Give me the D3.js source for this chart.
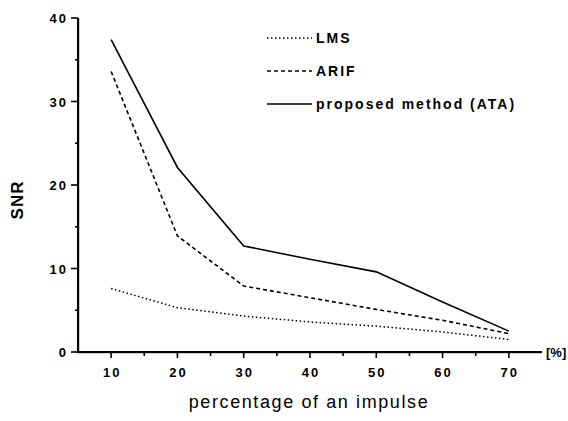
<!DOCTYPE html>
<html>
<head>
<meta charset="utf-8">
<script src="https://cdn.jsdelivr.net/npm/d3@7"></script>
<style>
  body { margin: 0; background: #fff; }
  text { font-family: "Liberation Sans", Arial, sans-serif; fill: #000; }
</style>
</head>
<body>
<div id="chart"></div>
<script>
// data
const impulse = [10, 20, 30, 40, 50, 60, 70];
const lms = [7.6, 5.3, 4.3, 3.6, 3.1, 2.4, 1.5];
const arif = [33.6, 13.9, 7.9, 6.5, 5.1, 3.8, 2.2];
const ata = [37.4, 22.1, 12.7, 11.1, 9.6, 6.0, 2.5];

const seriesNames = ['LMS', 'ARIF', 'proposed method (ATA)'];
const xTicks = [10, 20, 30, 40, 50, 60, 70];
const xMinor = [15, 25, 35, 45, 55, 65];
const yTicks = [0, 10, 20, 30, 40];
const yMinor = [5, 15, 25, 35];

const width = 568, height = 421;
const margin = { top: 18, right: 26, bottom: 69, left: 78 };

const svg = d3.select('#chart').append('svg')
  .attr('width', width)
  .attr('height', height);

const x = d3.scaleLinear().domain([5, 75]).range([margin.left, width - margin.right]);
const y = d3.scaleLinear().domain([0, 40]).range([height - margin.bottom, margin.top]);

const tickFont = sel => sel
  .style('font-size', '13px')
  .style('font-weight', 'bold')
  .style('letter-spacing', '2px');

// axis frame as thin filled rects
const frame = svg.append('g').attr('class', 'frame');
frame.append('rect')
  .attr('x', x(5) - 1).attr('y', y(40))
  .attr('width', 2.2).attr('height', y(0) - y(40) + 1)
  .attr('fill', '#000');
frame.append('rect')
  .attr('x', x(5) - 1).attr('y', y(0) - 1)
  .attr('width', x(75) - x(5) + 1).attr('height', 2.2)
  .attr('fill', '#000');

// tick marks
frame.selectAll('.xt')
  .data(xTicks.map(v => [v, 6]).concat(xMinor.map(v => [v, 4])))
  .enter().append('rect')
  .attr('x', d => x(d[0]) - 0.8).attr('y', y(0))
  .attr('width', 1.6).attr('height', d => d[1])
  .attr('fill', '#000');
frame.selectAll('.yt')
  .data(yTicks.map(v => [v, 7]).concat(yMinor.map(v => [v, 3])))
  .enter().append('rect')
  .attr('x', d => x(5) - d[1]).attr('y', d => y(d[0]) - 0.8)
  .attr('width', d => d[1]).attr('height', 1.6)
  .attr('fill', '#000');

svg.selectAll('.xlab')
  .data(xTicks)
  .enter().append('text')
  .attr('x', d => x(d) + 1)
  .attr('y', y(0) + 25)
  .attr('text-anchor', 'middle')
  .call(tickFont)
  .text(d => d);

svg.selectAll('.ylab')
  .data(yTicks)
  .enter().append('text')
  .attr('x', x(5) - 10)
  .attr('y', d => y(d) + 5)
  .attr('text-anchor', 'end')
  .call(tickFont)
  .text(d => d);

svg.append('text')
  .attr('x', x(75) + 4)
  .attr('y', y(0) + 5)
  .style('font-size', '13px')
  .style('font-weight', 'bold')
  .text('[%]');

// axis titles
svg.append('text')
  .attr('transform', `translate(23,200) rotate(-90)`)
  .attr('text-anchor', 'middle')
  .style('font-size', '17px')
  .style('font-weight', 'bold')
  .style('letter-spacing', '1px')
  .text('SNR');

svg.append('text')
  .attr('x', 309)
  .attr('y', 408)
  .attr('text-anchor', 'middle')
  .style('font-size', '18px')
  .style('letter-spacing', '1.6px')
  .text('percentage of an impulse');

// lines
const dashes = ['1.5,2.5', '4,3', null];
const widths = [1.5, 1.6, 1.6];
const line = d3.line().x((d, i) => x(impulse[i])).y(d => y(d));

[lms, arif, ata].forEach((vals, k) => {
  svg.append('path')
    .datum(vals)
    .attr('d', line)
    .attr('fill', 'none')
    .attr('stroke', '#000')
    .attr('stroke-width', widths[k])
    .attr('stroke-dasharray', dashes[k]);
});

// legend
const legend = svg.append('g').attr('transform', 'translate(267,38)');
seriesNames.forEach((name, k) => {
  const g = legend.append('g').attr('transform', `translate(0,${k * 33})`);
  g.append('line')
    .attr('x1', 0).attr('x2', 45)
    .attr('y1', 0).attr('y2', 0)
    .attr('stroke', '#000')
    .attr('stroke-width', widths[k])
    .attr('stroke-dasharray', dashes[k]);
  g.append('text')
    .attr('x', 49)
    .attr('y', 5)
    .style('font-size', '14px')
    .style('font-weight', 'bold')
    .style('letter-spacing', '2px')
    .text(name);
});
</script>
</body>
</html>
